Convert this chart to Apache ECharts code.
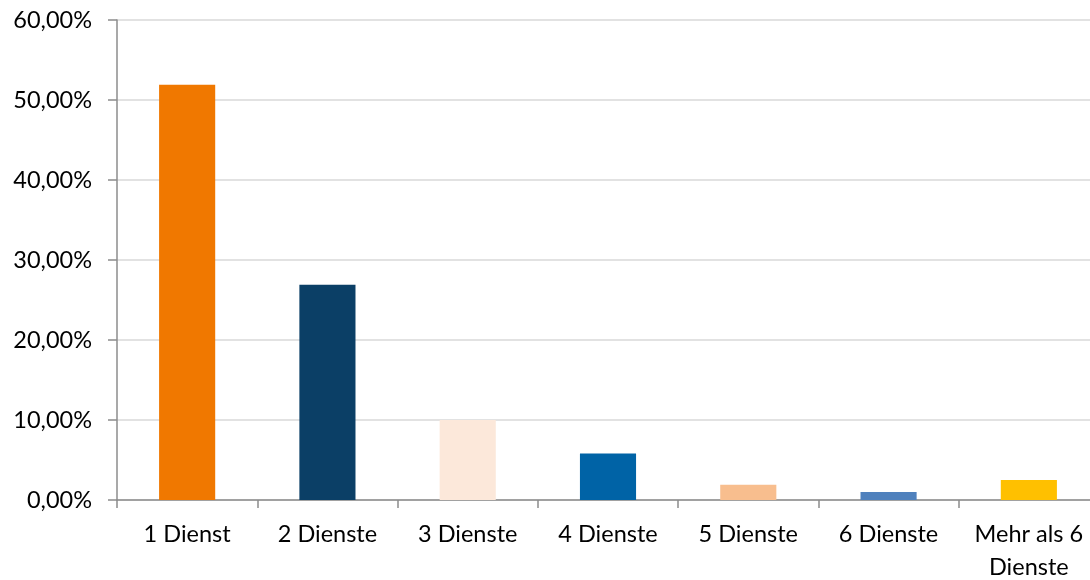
<!DOCTYPE html>
<html>
<head>
<meta charset="utf-8">
<script src="https://cdn.jsdelivr.net/npm/echarts@6/dist/echarts.min.js"></script>
<style>
  html, body { margin: 0; padding: 0; background: #ffffff; }
  #chart { width: 1090px; height: 580px; }
</style>
</head>
<body>
<div id="chart"></div>
<script>
// Kategorien und Anteile (in %)
const categories = ['1 Dienst', '2 Dienste', '3 Dienste', '4 Dienste', '5 Dienste', '6 Dienste', 'Mehr als 6\nDienste']
const shares = [51.9, 26.9, 10.0, 5.8, 1.9, 1.0, 2.5]

// Farben je Balken
const barColors = ['#F07800', '#0B3F66', '#FCE8DA', '#0063A6', '#F8BE8E', '#4F81BD', '#FFC000']

const fmt = v => v.toFixed(2).replace('.', ',') + '%'

const chart = echarts.init(document.getElementById('chart'))
chart.setOption({
  backgroundColor: '#ffffff',
  animation: false,
  grid: { left: 117, top: 20, width: 982, height: 480, containLabel: false, outerBoundsMode: 'none' },
  xAxis: {
    type: 'category',
    data: categories,
    axisLine: { lineStyle: { color: '#8C8C8C', width: 1.5 } },
    axisTick: { show: true, alignWithLabel: false, length: 8, lineStyle: { color: '#8C8C8C', width: 1.5 } },
    axisLabel: { color: '#000000', fontFamily: 'Lato', fontSize: 23.5, margin: 18, lineHeight: 33, interval: 0 }
  },
  yAxis: {
    type: 'value',
    min: 0,
    max: 60,
    interval: 10,
    axisLine: { show: true, lineStyle: { color: '#8C8C8C', width: 1.5 } },
    axisTick: { show: true, length: 9, lineStyle: { color: '#8C8C8C', width: 1.5 } },
    axisLabel: { color: '#000000', fontFamily: 'Lato', fontSize: 23.5, margin: 25, formatter: fmt },
    splitLine: { lineStyle: { color: '#D9D9D9', width: 1.5 } }
  },
  series: [{
    type: 'bar',
    barWidth: '40%',
    data: shares.map((v, i) => ({ value: v, itemStyle: { color: barColors[i] } }))
  }]
})
</script>
</body>
</html>
